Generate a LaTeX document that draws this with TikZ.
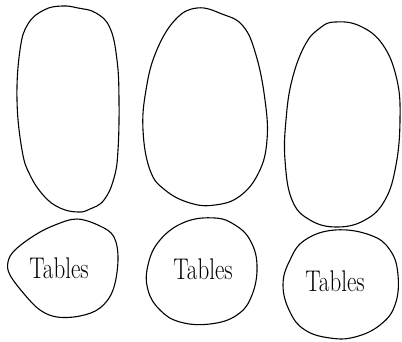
\documentclass[tikz,border=0pt]{standalone}
\begin{document}
\begin{tikzpicture}[x=1pt,y=-1pt,
  blob/.style={draw=black,line width=1.1pt,line join=round},
  lbl/.style={font=\fontsize{23}{26}\selectfont,inner sep=0pt}]
\useasboundingbox (0,0) rectangle (402,341);
% top ovals
\draw[blob] plot[smooth cycle,tension=0.7] coordinates {(62,6) (78,8) (96,13) (110,28) (117,60) (119,100) (118,150) (114,178) (104,200) (90,209) (78,212) (60,208) (44,196) (30,175) (22,150) (17,100) (20,50) (28,24) (44,10)};
\draw[blob] plot[smooth cycle,tension=0.7] coordinates {(197,8) (222,14) (243,26) (256,55) (265,100) (267,140) (259,172) (240,196) (215,205) (190,203) (165,190) (150,170) (143,130) (146,90) (156,52) (175,20)};
\draw[blob] plot[smooth cycle,tension=0.7] coordinates {(335,22) (360,26) (383,45) (397,80) (400,120) (396,165) (385,200) (365,220) (337,227) (310,220) (292,200) (285,160) (286,120) (292,80) (305,45) (320,28)};
% bottom blobs
\draw[blob] plot[smooth cycle,tension=0.6] coordinates {(77,219) (100,226) (114,237) (118,260) (113,290) (100,308) (80,316) (57,317) (40,310) (25,295) (10,275) (8,262) (15,250) (35,235) (55,225)};
\draw[blob] plot[smooth cycle,tension=0.7] coordinates {(215,218) (235,225) (250,240) (257,265) (252,295) (237,315) (210,324) (180,322) (160,310) (148,290) (148,265) (160,240) (185,222)};
\draw[blob] plot[smooth cycle,tension=0.7] coordinates {(335,230) (370,235) (390,250) (398,275) (395,305) (380,325) (355,337) (330,338) (305,330) (290,312) (283,285) (290,260) (305,240)};
% labels
\node[lbl] (t1) at (59,268) {\scalebox{1}[1.3]{Tables}};
\node[lbl] (t2) at (203,269) {\scalebox{1}[1.3]{Tables}};
\node[lbl] (t3) at (335,281) {\scalebox{1}[1.3]{Tables}};
\end{tikzpicture}
\end{document}
